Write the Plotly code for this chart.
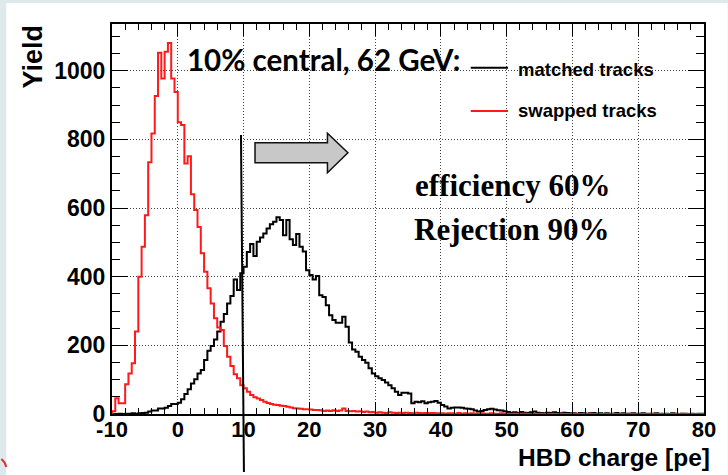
import numpy as np
import plotly.graph_objects as go

# ---------------- data ----------------
bin_start = -10.0
bin_width = 0.5

swapped_tracks = [
    8, 46, 31, 31, 87, 118, 148, 240, 400, 487,            # -10.0 .. -5.5
    579, 733, 817, 926, 1052, 977, 1055, 1081, 977, 938,   # -5.0 .. -0.5
    850, 842, 730, 751, 640, 594, 545, 468, 414, 366,      # 0.0 .. 4.5
    322, 279, 252, 245, 198, 167, 140, 116, 104, 84,       # 5.0 .. 9.5
    75, 65, 55, 49, 45, 41, 36, 32, 29, 27,                # 10.0 .. 14.5
    26, 24, 23, 21, 19, 17, 16, 15, 14, 14,                # 15.0 .. 19.5
    13, 12, 12, 11, 9, 10, 9, 11, 9, 10,                   # 20.0 .. 24.5
    16, 9, 8, 9, 7, 8, 6, 7, 5, 6,                         # 25.0 .. 29.5
    4, 5, 4, 3, 5, 4, 3, 4, 3, 4,                          # 30.0 .. 34.5
    3, 2, 4, 3, 2, 3, 2, 3, 2, 2,                          # 35.0 .. 39.5
    2, 1, 2, 2, 1, 3, 1, 2, 1, 2,                          # 40.0 .. 44.5
    1, 1, 2, 1, 1, 2, 1, 1, 2, 1,                          # 45.0 .. 49.5
    1, 0, 1, 1, 0, 1, 0, 0, 1, 0,                          # 50.0 .. 54.5
    1, 0, 0, 1, 0, 0, 1, 0, 0, 0,                          # 55.0 .. 59.5
    0, 1, 0, 0, 0, 1, 0, 0, 0, 0,                          # 60.0 .. 64.5
    0, 0, 1, 0, 0, 0, 0, 1, 0, 0,                          # 65.0 .. 69.5
    0, 0, 0, 0, 1, 0, 0, 0, 0, 0,                          # 70.0 .. 74.5
    0, 0, 0, 1, 0, 0, 0, 0, 0, 0,                          # 75.0 .. 79.5
]

matched_tracks = [
    0, 0, 1, 0, 1, 1, 2, 1, 2, 3,                          # -10.0 .. -5.5
    4, 7, 10, 10, 16, 16, 18, 23, 29, 29,                  # -5.0 .. -0.5
    33, 43, 58, 72, 89, 101, 118, 128, 157, 184,           # 0.0 .. 4.5
    198, 217, 240, 269, 291, 322, 344, 392, 361, 410,      # 5.0 .. 9.5
    429, 472, 495, 460, 502, 514, 526, 540, 553, 560,      # 10.0 .. 14.5
    573, 565, 521, 565, 509, 492, 524, 487, 473, 419,      # 15.0 .. 19.5
    405, 392, 402, 346, 341, 317, 288, 274, 266, 266,      # 20.0 .. 24.5
    283, 254, 208, 188, 181, 167, 157, 149, 133, 118,      # 25.0 .. 29.5
    110, 104, 99, 92, 84, 75, 65, 55, 62, 62,              # 30.0 .. 34.5
    60, 31, 36, 34, 37, 31, 34, 36, 38, 33,                # 35.0 .. 39.5
    26, 22, 16, 18, 19, 19, 18, 16, 15, 14,                # 40.0 .. 44.5
    10, 7, 9, 12, 14, 15, 13, 11, 10, 8,                   # 45.0 .. 49.5
    6, 4, 5, 3, 6, 4, 3, 5, 7, 4,                          # 50.0 .. 54.5
    3, 2, 4, 3, 5, 3, 2, 4, 3, 2,                          # 55.0 .. 59.5
    2, 1, 3, 2, 1, 2, 3, 1, 2, 1,                          # 60.0 .. 64.5
    2, 1, 1, 3, 1, 2, 1, 1, 2, 1,                          # 65.0 .. 69.5
    1, 2, 1, 1, 0, 2, 1, 1, 1, 0,                          # 70.0 .. 74.5
    2, 1, 0, 1, 1, 0, 1, 0, 1, 1,                          # 75.0 .. 79.5
]

x_ticks = [-10, 0, 10, 20, 30, 40, 50, 60, 70, 80]
y_ticks = [0, 200, 400, 600, 800, 1000]

assert len(swapped_tracks) == 180, len(swapped_tracks)
assert len(matched_tracks) == 180, len(matched_tracks)

# ---------------- layout geometry (pixels) ----------------
WIDTH, HEIGHT = 728, 475
L, R, T, B = 112, 711, 24, 414
PW, PH = R - L, B - T


def px(x):
    return (x - L) / PW


def py(y):
    return (B - y) / PH


def step_xy(vals):
    edges = bin_start + bin_width * np.arange(len(vals) + 1)
    xs = [edges[0]] + list(edges)
    ys = [0] + list(vals) + [vals[-1]]
    return xs, ys


fig = go.Figure()

xm, ym = step_xy(matched_tracks)
fig.add_trace(go.Scatter(x=xm, y=ym, mode="lines", line_shape="hv",
                         line=dict(color="black", width=2), name="matched tracks",
                         showlegend=False))
xs, ys = step_xy(swapped_tracks)
fig.add_trace(go.Scatter(x=xs, y=ys, mode="lines", line_shape="hv",
                         line=dict(color="#ff1a1a", width=2), name="swapped tracks",
                         showlegend=False))

SANS = "Liberation Sans, Arial, sans-serif"
SERIF = "Liberation Serif, Times New Roman, serif"
sans = dict(family=SANS, color="black", weight="bold")
grid_dash = "1px,2px"

fig.update_xaxes(
    range=[-10, 80], tickvals=x_ticks, ticktext=[str(v) for v in x_ticks],
    ticks="inside", ticklen=12, tickwidth=1, tickcolor="black",
    minor=dict(dtick=2, ticks="inside", ticklen=6, tickcolor="black", showgrid=False),
    showline=True, linecolor="black", linewidth=2, mirror="allticks",
    showgrid=True, gridcolor="#444444", griddash=grid_dash, gridwidth=1,
    zeroline=False, tickfont=dict(size=22, **sans), ticklabelstandoff=-5,
)
fig.update_yaxes(
    range=[0, 1136], tickvals=y_ticks, ticktext=[str(v) for v in y_ticks],
    ticks="inside", ticklen=16, tickwidth=1, tickcolor="black",
    minor=dict(dtick=50, ticks="inside", ticklen=8, tickcolor="black", showgrid=False),
    showline=True, linecolor="black", linewidth=2, mirror="allticks",
    showgrid=True, gridcolor="#444444", griddash=grid_dash, gridwidth=1,
    zeroline=False, tickfont=dict(size=23, **sans),
)

shapes = []
# slide background: white page on light teal
shapes.append(dict(type="rect", xref="paper", yref="paper", layer="below",
                   x0=px(5), x1=px(735), y0=py(3), y1=py(480),
                   fillcolor="white", line=dict(width=0)))
# small red slide decoration at bottom-left corner
shapes.append(dict(type="path", xref="paper", yref="paper",
                   path=f"M {px(0)} {py(459)} Q {px(4)} {py(462)} {px(5)} {py(467)}",
                   line=dict(color="#e03030", width=2)))
# cut line
shapes.append(dict(type="line", xref="paper", yref="paper",
                   x0=px(242.5), y0=py(135), x1=px(245.5), y1=py(472),
                   line=dict(color="black", width=2)))
# arrow
pts = [(256.7, 142.7), (330, 142.7), (330, 133.3), (350.7, 152.7),
       (330, 172.7), (330, 162.7), (256.7, 162.7)]
path = "M " + " L ".join(f"{px(a)} {py(b)}" for a, b in pts) + " Z"
shapes.append(dict(type="path", xref="paper", yref="paper", path=path,
                   fillcolor="#c8c8c8", line=dict(color="#111111", width=1.5)))
# legend samples
shapes.append(dict(type="line", xref="paper", yref="paper",
                   x0=px(475), x1=px(512.7), y0=py(67.7), y1=py(67.7),
                   line=dict(color="black", width=2)))
shapes.append(dict(type="line", xref="paper", yref="paper",
                   x0=px(475), x1=px(512.7), y0=py(111), y1=py(111),
                   line=dict(color="#ff1a1a", width=2)))

annotations = [
    dict(text="<b>10% central, 62 GeV:</b>", x=px(187), y=py(59.5), xanchor="left",
         yanchor="middle",
         font=dict(family="Lato, Open Sans, sans-serif", size=29.5, color="black")),
    dict(text="<b>matched tracks</b>", x=px(522), y=py(69.5), xanchor="left", yanchor="middle",
         font=dict(family=SANS, size=18.5, color="black")),
    dict(text="<b>swapped tracks</b>", x=px(522), y=py(110.8), xanchor="left", yanchor="middle",
         font=dict(family=SANS, size=18.5, color="black")),
    dict(text="<b>efficiency 60%</b>", x=px(418), y=py(185), xanchor="left", yanchor="middle",
         font=dict(family=SERIF, size=31, color="black")),
    dict(text="<b>Rejection 90%</b>", x=px(416.5), y=py(229.3), xanchor="left", yanchor="middle",
         font=dict(family=SERIF, size=31, color="black")),
    dict(text="<b>Yield</b>", x=px(32), y=py(56.5), xanchor="center", yanchor="middle",
         textangle=-90, font=dict(family=SANS, size=27, color="black")),
    dict(text="<b>HBD charge [pe]</b>", x=px(718), y=py(457.3), xanchor="right",
         yanchor="middle", font=dict(family=SANS, size=24.5, color="black")),
]
for a in annotations:
    a.update(xref="paper", yref="paper", showarrow=False, borderpad=0)

fig.update_layout(
    width=WIDTH, height=HEIGHT,
    margin=dict(l=L, r=WIDTH - R, t=T, b=HEIGHT - B, pad=0),
    paper_bgcolor="#dde9ea", plot_bgcolor="white",
    shapes=shapes, annotations=annotations, showlegend=False,
)

fig.write_html("out.html")
